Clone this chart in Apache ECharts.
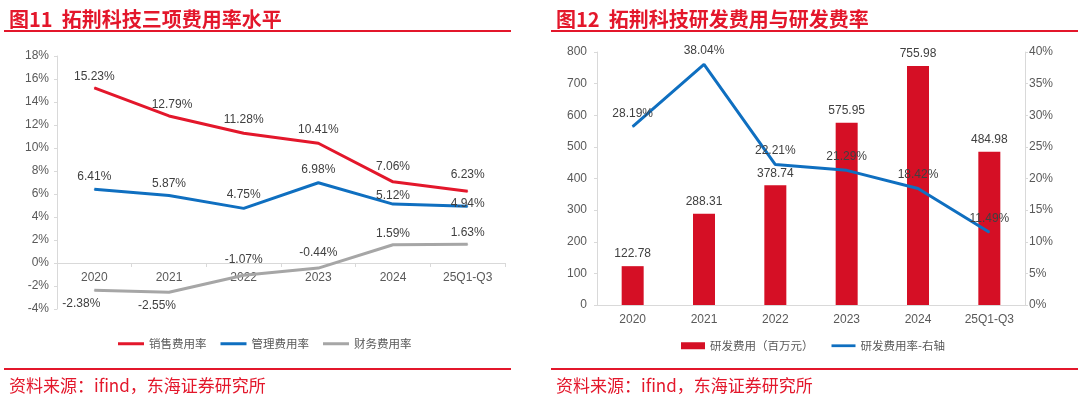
<!DOCTYPE html>
<html>
<head>
<meta charset="utf-8">
<script src="https://cdn.jsdelivr.net/npm/echarts@6/dist/echarts.min.js"></script>
<style>
  html, body { margin: 0; padding: 0; background: #fff; }
  #main { width: 1080px; height: 397px; }
</style>
</head>
<body>
<div id="main"></div>
<script>
// 数据
var categories = ['2020', '2021', '2022', '2023', '2024', '25Q1-Q3'];
var salesRate = [15.23, 12.79, 11.28, 10.41, 7.06, 6.23];   // 销售费用率
var mgmtRate = [6.41, 5.87, 4.75, 6.98, 5.12, 4.94];       // 管理费用率
var finRate = [-2.38, -2.55, -1.07, -0.44, 1.59, 1.63];    // 财务费用率
var rdExpense = [122.78, 288.31, 378.74, 575.95, 755.98, 484.98]; // 研发费用（百万元）
var rdRate = [28.19, 38.04, 22.21, 21.29, 18.42, 11.49];   // 研发费用率

var RED = '#e3172b';
var BAR_RED = '#d50f25';
var BLUE = '#0f6fc0';
var GRAY = '#a6a6a6';
var TXT = '#404040';
var AXIS_TXT = '#595959';
var AXIS_LINE = '#d9d9d9';
var FONT = 'Liberation Sans, Noto Sans CJK SC, sans-serif';
var CJK = 'Noto Sans CJK SC, sans-serif';

var myChart = echarts.init(document.getElementById('main'), null, { renderer: 'canvas' });

function pct(p) { return p.value.toFixed(2) + '%'; }

// 给每个点单独设置标签位置
function withLabels(values, cfg) {
	return values.map(function (v, i) {
		var c = cfg[i] || {};
		return {
			value: v,
			label: {
				position: c.pos || 'top',
				offset: c.off || [0, 0],
				distance: c.dist == null ? 5 : c.dist
			}
		};
	});
}

var labelBase = {
	show: true,
	color: TXT,
	fontSize: 12,
	fontFamily: FONT,
	formatter: pct
};

function lineSeries(name, color, data) {
	return {
		name: name, type: 'line', xAxisIndex: 0, yAxisIndex: 0,
		symbol: 'circle', symbolSize: 1, showSymbol: true, color: color,
		itemStyle: { color: color },
		lineStyle: { color: color, width: 3 },
		label: labelBase,
		data: data
	};
}

var option = {
	animation: false,
	backgroundColor: '#fff',
	title: [
		{
			text: '图11  拓荆科技三项费用率水平',
			left: 4, top: 4,
			textStyle: { color: RED, fontSize: 20, fontWeight: 'bold', fontFamily: CJK }
		},
		{
			text: '图12  拓荆科技研发费用与研发费率',
			left: 551, top: 4,
			textStyle: { color: RED, fontSize: 20, fontWeight: 'bold', fontFamily: CJK }
		},
		{
			text: '资料来源：ifind，东海证券研究所',
			left: 4, top: 372,
			textStyle: { color: RED, fontSize: 17, fontWeight: 'normal', fontFamily: CJK }
		},
		{
			text: '资料来源：ifind，东海证券研究所',
			left: 551, top: 372,
			textStyle: { color: RED, fontSize: 17, fontWeight: 'normal', fontFamily: CJK }
		}
	],
	graphic: [
		{ type: 'rect', shape: { x: 4, y: 30, width: 507, height: 2 }, style: { fill: RED } },
		{ type: 'rect', shape: { x: 551, y: 30, width: 527, height: 2 }, style: { fill: RED } },
		{ type: 'rect', shape: { x: 4, y: 368, width: 507, height: 2 }, style: { fill: RED } },
		{ type: 'rect', shape: { x: 551, y: 368, width: 527, height: 2 }, style: { fill: RED } }
	],
	legend: [
		{
			left: 113, top: 333,
			itemWidth: 26, itemHeight: 8, itemGap: 14,
			symbolKeepAspect: true,
			textStyle: { color: AXIS_TXT, fontSize: 11.5, fontFamily: CJK },
			data: [
				{ name: '销售费用率', icon: 'path://M0,0H26V3H0Z' },
				{ name: '管理费用率', icon: 'path://M0,0H26V3H0Z' },
				{ name: '财务费用率', icon: 'path://M0,0H26V3H0Z' }
			]
		},
		{
			left: 676, top: 335,
			itemWidth: 24, itemHeight: 8, itemGap: 18,
			symbolKeepAspect: true,
			textStyle: { color: AXIS_TXT, fontSize: 11.5, fontFamily: CJK },
			data: [
				{ name: '研发费用（百万元）', icon: 'path://M0,0H24V7H0Z' },
				{ name: '研发费用率-右轴', icon: 'path://M0,0H26V3H0Z' }
			]
		}
	],
	grid: [
		{ left: 57, top: 56, width: 448, height: 253 },
		{ left: 597, top: 52, width: 428, height: 253 }
	],
	xAxis: [
		{
			// 0% 所在位置：253 * 4 / 22 ≈ 46
			type: 'category', gridIndex: 0, data: categories,
			offset: -46,
			axisLine: { onZero: false, lineStyle: { color: AXIS_LINE } },
			axisTick: { show: true, length: 4, lineStyle: { color: AXIS_LINE } },
			axisLabel: { color: AXIS_TXT, fontSize: 12, fontFamily: FONT, margin: 9 },
			splitLine: { show: false }
		},
		{
			type: 'category', gridIndex: 1, data: categories,
			axisLine: { lineStyle: { color: AXIS_LINE } },
			axisTick: { show: false },
			axisLabel: { color: AXIS_TXT, fontSize: 12, fontFamily: FONT, margin: 9 },
			splitLine: { show: false }
		}
	],
	yAxis: [
		{
			type: 'value', gridIndex: 0, min: -4, max: 18, interval: 2,
			axisLine: { show: true, lineStyle: { color: AXIS_LINE } },
			axisTick: { show: true, length: 3, lineStyle: { color: AXIS_LINE } },
			axisLabel: { color: AXIS_TXT, fontSize: 12, fontFamily: FONT, margin: 8, formatter: '{value}%' },
			splitLine: { show: false }
		},
		{
			type: 'value', gridIndex: 1, min: 0, max: 800, interval: 100,
			axisLine: { show: true, lineStyle: { color: AXIS_LINE } },
			axisTick: { show: true, length: 3, lineStyle: { color: AXIS_LINE } },
			axisLabel: { color: AXIS_TXT, fontSize: 12, fontFamily: FONT, margin: 10 },
			splitLine: { show: false }
		},
		{
			type: 'value', gridIndex: 1, position: 'right', min: 0, max: 40, interval: 5,
			axisLine: { show: true, lineStyle: { color: AXIS_LINE } },
			axisTick: { show: true, length: 3, lineStyle: { color: AXIS_LINE } },
			axisLabel: { color: AXIS_TXT, fontSize: 12, fontFamily: FONT, margin: 4, formatter: '{value}%' },
			splitLine: { show: false }
		}
	],
	series: [
		lineSeries('销售费用率', RED, withLabels(salesRate, [
			{ dist: 5 }, { off: [3, 0] }, { dist: 7 }, { dist: 7 }, { dist: 9 }, { dist: 10 }
		])),
		lineSeries('管理费用率', BLUE, withLabels(mgmtRate, [
			{ dist: 6 }, { dist: 5 }, { dist: 7 }, { dist: 7 }, { dist: 2 }, { dist: -4 }
		])),
		lineSeries('财务费用率', GRAY, withLabels(finRate, [
			{ pos: 'bottom', off: [-13, 0], dist: 7 },
			{ pos: 'bottom', off: [-12, 0], dist: 7 },
			{ dist: 9 }, { dist: 9 }, { dist: 5 }, { dist: 5 }
		])),
		{
			name: '研发费用（百万元）', type: 'bar', xAxisIndex: 1, yAxisIndex: 1,
			barWidth: 22, color: BAR_RED,
			itemStyle: { color: BAR_RED },
			label: {
				show: true, position: 'top', distance: 6,
				color: TXT, fontSize: 12, fontFamily: FONT,
				formatter: function (p) { return p.value.toFixed(2); }
			},
			data: rdExpense
		},
		{
			name: '研发费用率-右轴', type: 'line', xAxisIndex: 1, yAxisIndex: 2,
			symbol: 'circle', symbolSize: 1, showSymbol: true, color: BLUE, z: 5,
			itemStyle: { color: BLUE },
			lineStyle: { color: BLUE, width: 3 },
			label: {
				show: true, position: 'top', distance: 7,
				color: TXT, fontSize: 12, fontFamily: FONT,
				formatter: pct
			},
			data: rdRate
		}
	]
};

myChart.setOption(option);
</script>
</body>
</html>
